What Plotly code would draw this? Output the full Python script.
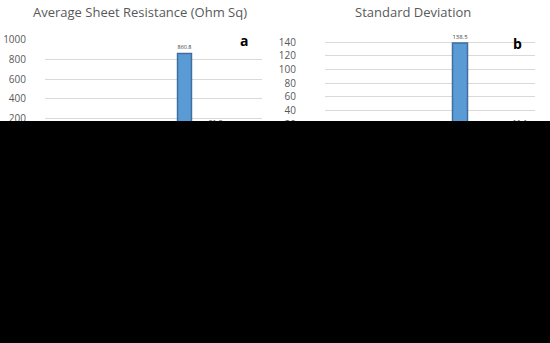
import plotly.graph_objects as go

categories = ["1", "2", "3", "4", "5", "6", "7"]
avg_resistance = [72.5, 40.0, 45.0, 38.0, 860.8, 81.8, 26.5]
std_deviation = [6.0, 4.0, 5.0, 4.5, 138.5, 8.0, 11.1]
labels_a = ["72.5", "40.0", "45.0", "38.0", "860.8", "81.8", "26.5"]
labels_b = ["6.0", "4.0", "5.0", "4.5", "138.5", "8.0", "11.1"]

W, H = 550, 343
def px_x(v): return v / W
def px_y(v): return (H - v) / H

fig = go.Figure()
bar_color = "#5B9BD5"
edge = "#3E6F9E"
text_font = dict(family="Open Sans", size=7.5, color="#404040")

fig.add_trace(go.Bar(x=categories, y=avg_resistance, text=labels_a, textposition="outside",
                     textfont=text_font, outsidetextfont=text_font, cliponaxis=False, width=0.45,
                     marker=dict(color=bar_color, line=dict(color=edge, width=1.5)),
                     xaxis="x", yaxis="y", showlegend=False, hoverinfo="skip"))
fig.add_trace(go.Bar(x=categories, y=std_deviation, text=labels_b, textposition="outside",
                     textfont=text_font, outsidetextfont=text_font, cliponaxis=False, width=0.5,
                     marker=dict(color=bar_color, line=dict(color=edge, width=1.5)),
                     xaxis="x2", yaxis="y2", showlegend=False, hoverinfo="skip"))

tickfont = dict(family="Open Sans", size=10, color="#595959")
title_font = dict(family="Open Sans", size=13, color="#595959")
fig.update_layout(
    width=W, height=H, margin=dict(l=0, r=0, t=0, b=0, autoexpand=False),
    paper_bgcolor="white", plot_bgcolor="white",
    xaxis=dict(domain=[px_x(45), px_x(262)], showticklabels=False, showgrid=False, zeroline=False),
    xaxis2=dict(domain=[px_x(325), px_x(535)], showticklabels=False, showgrid=False, zeroline=False, anchor="y2"),
    yaxis=dict(domain=[px_y(138), px_y(39)], range=[0, 1010], tickvals=[0, 200, 400, 600, 800, 1000],
               gridcolor="#D9D9D9", zeroline=False, tickfont=tickfont, ticklabelstandoff=18, anchor="x"),
    yaxis2=dict(domain=[px_y(138), px_y(40)], range=[0, 143], tickvals=[0, 20, 40, 60, 80, 100, 120, 140],
                gridcolor="#D9D9D9", zeroline=False, tickfont=tickfont, ticklabelstandoff=28, anchor="x2"),
    annotations=[
        dict(text="Average Sheet Resistance (Ohm Sq)", x=px_x(140), y=px_y(12), xref="paper", yref="paper",
             xanchor="center", yanchor="middle", showarrow=False, font=title_font),
        dict(text="Standard Deviation", x=px_x(413), y=px_y(12), xref="paper", yref="paper",
             xanchor="center", yanchor="middle", showarrow=False, font=title_font),
        dict(text="<b>a</b>", x=px_x(244), y=px_y(40), xref="paper", yref="paper",
             xanchor="center", yanchor="middle", showarrow=False,
             font=dict(family="Open Sans", size=14, color="#000000")),
        dict(text="<b>b</b>", x=px_x(517), y=px_y(43), xref="paper", yref="paper",
             xanchor="center", yanchor="middle", showarrow=False,
             font=dict(family="Open Sans", size=14, color="#000000")),
    ],
    shapes=[dict(type="rect", xref="paper", yref="paper", x0=0, x1=1, y0=0, y1=px_y(121),
                 fillcolor="black", line=dict(width=0), layer="above")],
)

fig.write_html("out.html", config={"displayModeBar": False},
               post_script="document.body.style.margin='0';")
